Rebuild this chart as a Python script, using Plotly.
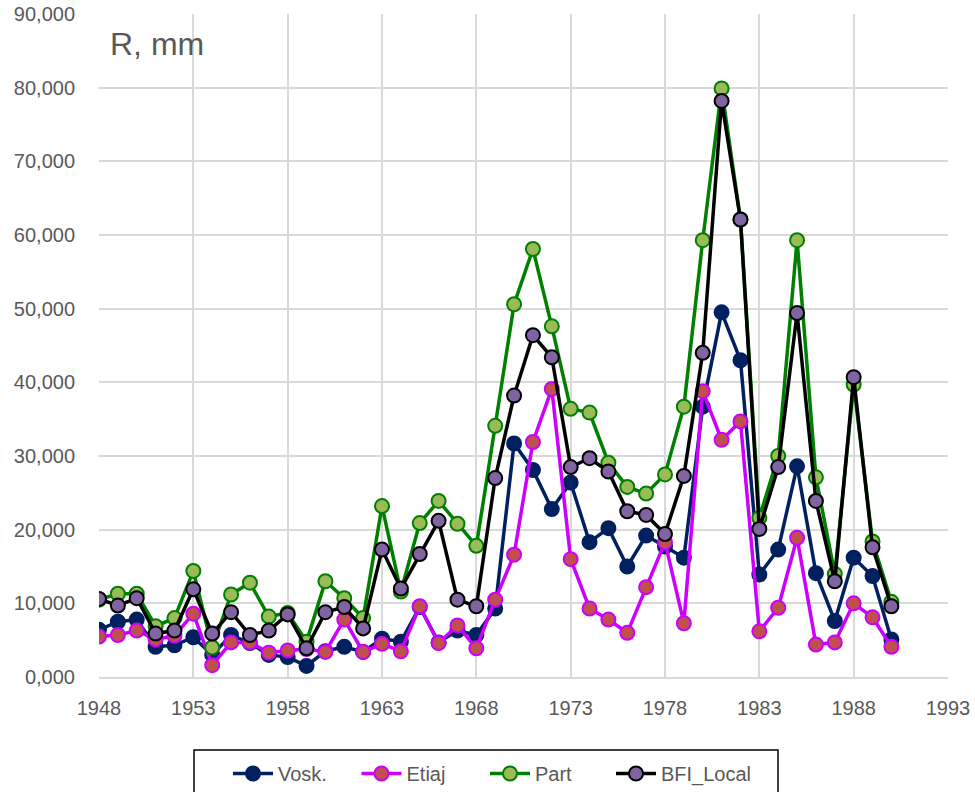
import plotly.graph_objects as go

years = list(range(1948, 1991))

vosk = [6.4, 7.5, 7.8, 4.1, 4.3, 5.4, 3.0, 5.7, 4.6, 3.0, 2.7, 1.5, 3.5, 4.1, 3.4,
        5.2, 4.8, 9.5, 4.7, 6.3, 5.7, 9.3, 31.7, 28.1, 22.8, 26.4, 18.3, 20.2, 15.0,
        19.2, 17.7, 16.2, 36.7, 49.5, 43.0, 13.9, 17.3, 28.6, 14.1, 7.6, 16.2, 13.7, 5.1]
etiaj = [5.5, 5.7, 6.3, 5.1, 5.6, 8.6, 1.6, 4.7, 4.7, 3.3, 3.6, 3.8, 3.4, 7.8, 3.4,
         4.5, 3.5, 9.6, 4.6, 7.0, 3.9, 10.5, 16.6, 31.9, 39.1, 16.0, 9.3, 7.8, 6.0,
         12.2, 18.3, 7.3, 38.8, 32.2, 34.7, 6.2, 9.4, 18.9, 4.4, 4.7, 10.0, 8.1, 4.1]
part = [10.5, 11.3, 11.3, 6.9, 8.0, 14.4, 4.0, 11.2, 12.8, 8.2, 8.7, 4.8, 13.0, 10.7, 8.0,
        23.2, 11.6, 20.9, 23.9, 20.8, 17.8, 34.1, 50.6, 58.1, 47.6, 36.4, 35.9, 29.1, 25.8,
        24.9, 27.5, 36.7, 59.3, 79.9, 62.1, 21.6, 30.0, 59.3, 27.1, 14.0, 39.7, 18.4, 10.2]
bfi = [10.6, 9.7, 10.7, 5.9, 6.3, 11.9, 5.9, 8.8, 5.7, 6.3, 8.5, 3.9, 8.8, 9.5, 6.6,
       17.3, 12.0, 16.7, 21.2, 10.5, 9.6, 27.0, 38.2, 46.4, 43.4, 28.5, 29.7, 27.9, 22.5,
       22.0, 19.4, 27.3, 44.0, 78.2, 62.1, 20.1, 28.5, 49.4, 23.9, 13.0, 40.7, 17.6, 9.6]

series = [
    ("Vosk.", vosk, "#002060", "#002060", "#002060", "legend"),
    ("Etiaj", etiaj, "#CC00FF", "#C0504D", "#CC00FF", "legend"),
    ("Part", part, "#008000", "#9BBB59", "#008000", "legend"),
    ("BFI_Local", bfi, "#000000", "#8064A2", "#000000", "legend2"),
]

fig = go.Figure()
for name, vals, lc, mf, ml, lg in series:
    fig.add_trace(go.Scatter(
        x=years, y=vals, name=name, mode="lines+markers", legend=lg,
        line=dict(color=lc, width=3.5),
        marker=dict(size=14, color=mf, line=dict(color=ml, width=2)),
    ))

font_fam = "Liberation Sans"
W, H = 975, 792
L, R, T, B = 99, W - 948, 14, H - 677
pw, ph = W - L - R, H - T - B

def px_x(p):
    return (p - L) / pw

def px_y(p):
    return (H - B - p) / ph

legend_common = dict(orientation="h", xref="container", yref="container",
                     xanchor="left", y=1 - 754 / H, yanchor="top",
                     borderwidth=0, bgcolor="rgba(0,0,0,0)",
                     font=dict(size=20, color="#595959"), itemwidth=40)

fig.update_layout(
    width=W, height=H,
    paper_bgcolor="white", plot_bgcolor="white",
    margin=dict(l=L, r=R, t=T, b=B, autoexpand=False),
    separators=", ",
    font=dict(family=font_fam, size=20, color="#595959"),
    xaxis=dict(range=[1948, 1993], dtick=5, tick0=1948, showgrid=True,
               gridcolor="#D9D9D9", gridwidth=2, showline=True, linecolor="#D9D9D9",
               linewidth=2, ticks="", zeroline=False, automargin=False,
               ticklabelstandoff=12, ticklabeloverflow="allow",
               tickfont=dict(size=20, color="#595959")),
    yaxis=dict(range=[0, 90], dtick=10, tickformat=".3f", showgrid=True,
               gridcolor="#D9D9D9", gridwidth=2, showline=False, zeroline=False,
               ticks="", automargin=False, ticklabelstandoff=23,
               ticklabeloverflow="allow",
               tickfont=dict(size=20, color="#595959")),
    legend=dict(x=228 / W, entrywidth=73.5, **legend_common),
    legend2=dict(x=611 / W, **legend_common),
    annotations=[dict(text="R, mm", xref="paper", yref="paper", x=px_x(108), y=px_y(24),
                      xanchor="left", yanchor="top", showarrow=False,
                      font=dict(size=32, color="#595959", family=font_fam))],
    shapes=[dict(type="rect", xref="paper", yref="paper",
                 x0=px_x(194), x1=px_x(778), y0=px_y(750), y1=px_y(810),
                 line=dict(color="#000000", width=1.5), fillcolor="rgba(0,0,0,0)",
                 layer="above")],
)

fig.write_html("out.html", config={"displayModeBar": False},
               post_script="document.body.style.margin='0';document.body.style.overflow='hidden';")
